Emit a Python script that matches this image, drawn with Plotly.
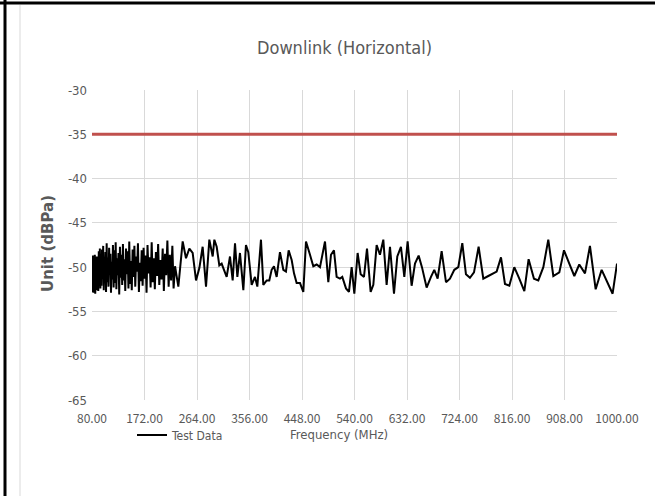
import plotly.graph_objects as go

# ---------------- data ----------------
freq_mhz = [
    80, 80.8, 81.6, 82.4, 83.2, 84.0, 84.9, 85.7, 86.6, 87.5,
    88.3, 89.2, 90.1, 91.0, 91.9, 92.9, 93.8, 94.7, 95.7, 96.6,
    97.6, 98.6, 99.6, 100.6, 101.6, 102.6, 103.6, 104.6, 105.7, 106.7,
    107.8, 108.9, 110.0, 111.1, 112.2, 113.3, 114.4, 115.6, 116.7, 117.9,
    119.1, 120.3, 121.5, 122.7, 123.9, 125.2, 126.4, 127.7, 129.0, 130.3,
    131.6, 132.9, 134.2, 135.5, 136.9, 138.3, 139.6, 141.0, 142.5, 143.9,
    145.3, 146.8, 148.2, 149.7, 151.2, 152.7, 154.3, 155.8, 157.4, 159.0,
    160.5, 162.2, 163.8, 165.4, 167.1, 168.7, 170.4, 172.1, 173.8, 175.6,
    177.3, 179.1, 180.9, 182.7, 184.6, 186.4, 188.3, 190.1, 192.0, 194.0,
    195.9, 197.9, 199.8, 201.8, 203.9, 205.9, 208.0, 210.0, 212.1, 214.3,
    216.4, 218.6, 220.8, 223.0,
    225.5, 231.3, 238.9, 244.7, 250.6, 256.4, 262.3, 268.1, 273.9, 279.8,
    285.6, 291.5, 294.4, 298.5, 303.1, 307.2, 311.3, 316.0, 321.8, 326.5,
    330.6, 334.7, 339.3, 345.2, 349.8, 353.9, 359.8, 365.6, 369.7, 376.1,
    380.2, 386.1, 390.7, 394.8, 398.9, 403.6, 409.4, 415.3, 419.9, 424.6,
    429.9, 434.0, 438.6, 444.5, 450.3, 455.0, 462.0, 467.8, 473.7, 479.5,
    488.3, 494.1, 498.8, 504.0, 508.7, 514.5, 518.6, 525.1, 530.3, 535.0,
    539.7, 545.5, 550.8, 556.6, 561.9, 568.3, 573.0, 578.8, 584.6, 590.5,
    596.3, 602.2, 609.2, 615.0, 621.4, 627.3, 633.1, 640.1, 646.0, 652.4,
    658.2, 666.4, 674.0, 679.8, 685.7, 692.7, 700.3, 707.3, 714.9, 721.9,
    728.9, 735.3, 742.3, 749.4, 757.5, 765.7, 774.5, 782.1, 789.1, 796.7,
    803.7, 811.3, 820.0, 828.8, 837.6, 845.1, 854.5, 862.1, 870.9, 879.6,
    888.4, 898.9, 907.1, 916.4, 925.2, 933.9, 943.9, 952.6, 962.6, 973.1,
    983.0, 992.3, 1000.0,
]

test_data_dbpa = [
    -49.5, -52.8, -48.7, -52.9, -49.0, -52.5, -48.6, -53.0, -50.2, -52.6,
    -48.8, -51.9, -49.3, -52.7, -48.2, -51.6, -47.9, -52.4, -49.6, -52.1,
    -48.0, -51.3, -47.6, -52.6, -49.2, -51.0, -48.3, -52.8, -47.3, -51.7,
    -48.9, -52.2, -47.8, -50.6, -48.5, -52.9, -49.4, -51.4, -47.5, -52.3,
    -48.1, -51.8, -47.2, -52.5, -49.0, -50.9, -48.4, -53.1, -47.7, -51.2,
    -48.6, -52.0, -47.4, -51.5, -49.1, -52.7, -47.9, -50.8, -48.2, -52.4,
    -47.1, -51.9, -49.3, -52.6, -48.0, -51.1, -47.6, -52.2, -48.8, -50.5,
    -47.3, -52.8, -49.5, -51.6, -48.1, -52.1, -47.8, -51.3, -48.7, -52.9,
    -47.5, -50.7, -48.9, -52.3, -47.2, -51.7, -49.0, -52.5, -48.3, -51.0,
    -47.4, -52.0, -49.2, -51.4, -47.9, -52.7, -48.5, -50.9, -47.0, -52.2,
    -48.6, -51.5, -47.6, -52.4,
    -49.9, -52.2, -47.1, -49.0, -47.9, -48.4, -51.5, -50.1, -47.7, -52.2,
    -46.9, -48.8, -46.9, -47.7, -49.8, -49.6, -50.3, -51.1, -48.8, -51.5,
    -47.3, -51.1, -48.4, -52.6, -47.5, -48.3, -52.0, -51.1, -52.2, -46.9,
    -52.0, -51.5, -51.5, -50.3, -49.9, -51.1, -48.3, -50.3, -50.5, -48.1,
    -49.2, -50.7, -51.8, -51.8, -52.8, -47.1, -48.6, -49.9, -49.7, -50.0,
    -47.1, -51.7, -48.6, -48.1, -51.1, -51.3, -51.1, -52.4, -52.8, -50.0,
    -53.0, -48.4, -50.8, -51.1, -47.9, -52.8, -52.0, -47.5, -48.6, -46.9,
    -52.0, -47.7, -53.0, -48.8, -47.7, -51.1, -47.1, -52.1, -49.6, -48.7,
    -50.0, -52.3, -51.1, -50.3, -51.3, -48.2, -51.7, -51.3, -50.3, -50.0,
    -47.3, -50.8, -51.2, -50.6, -47.7, -51.3, -51.0, -50.7, -50.5, -48.9,
    -51.9, -52.1, -50.0, -51.3, -52.7, -49.1, -51.3, -51.5, -50.0, -46.9,
    -51.0, -50.6, -48.1, -49.6, -51.0, -49.7, -50.7, -47.6, -52.5, -50.3,
    -51.6, -53.0, -49.6,
]

limit_freq = [80, 1000]
limit_dbpa = [-35, -35]

x_ticks = [80, 172, 264, 356, 448, 540, 632, 724, 816, 908, 1000]
x_tick_text = ["80.00", "172.00", "264.00", "356.00", "448.00", "540.00",
               "632.00", "724.00", "816.00", "908.00", "1000.00"]
y_ticks = [-30, -35, -40, -45, -50, -55, -60, -65]
y_tick_text = ["-30", "-35", "-40", "-45", "-50", "-55", "-60", "-65"]

assert len(freq_mhz) == len(test_data_dbpa)

# ---------------- figure ----------------
W, H = 655, 496
L, R, T, B = 92, 38, 90, 96
pw, ph = W - L - R, H - T - B


def px(x):
    return (x - L) / pw


def py(y):
    return (H - B - y) / ph


GREY = "#595959"
NARROW = "DejaVu Sans Condensed, Liberation Sans Narrow, Liberation Sans, sans-serif"

fig = go.Figure()
fig.add_trace(go.Scatter(
    x=limit_freq, y=limit_dbpa, mode="lines",
    line=dict(color="#C0504D", width=3), showlegend=False, hoverinfo="skip",
))
fig.add_trace(go.Scatter(
    x=freq_mhz, y=test_data_dbpa, mode="lines", name="Test Data",
    line=dict(color="#000000", width=2),
))

fig.update_layout(
    width=W, height=H,
    margin=dict(l=L, r=R, t=T, b=B),
    paper_bgcolor="white", plot_bgcolor="white",
    showlegend=True,
    legend=dict(x=px(132), y=py(435), xanchor="left", yanchor="middle",
                font=dict(family=NARROW, size=12, color=GREY),
                bgcolor="rgba(0,0,0,0)", itemwidth=30),
    font=dict(family=NARROW, color=GREY),
)
fig.update_xaxes(
    range=[80, 1000], tickvals=x_ticks, ticktext=x_tick_text,
    showgrid=True, gridcolor="#D9D9D9", gridwidth=1,
    zeroline=False, showline=False, ticks="", ticklabelstandoff=10,
    tickfont=dict(family="Noto Sans CJK SC", size=12, color=GREY),
)
fig.update_yaxes(
    range=[-65, -30], tickvals=y_ticks, ticktext=y_tick_text,
    showgrid=True, gridcolor="#D9D9D9", gridwidth=1,
    zeroline=False, showline=False, ticks="", ticklabelstandoff=4,
    tickfont=dict(family=NARROW, size=13, color=GREY),
)

fig.add_annotation(
    text="Downlink (Horizontal)", xref="paper", yref="paper",
    x=px(344), y=py(47), xanchor="center", yanchor="middle", showarrow=False,
    font=dict(family=NARROW, size=18, color=GREY),
)
fig.add_annotation(
    text="Frequency (MHz)", xref="paper", yref="paper",
    x=px(339), y=py(435), xanchor="center", yanchor="middle", showarrow=False,
    font=dict(family=NARROW, size=13, color=GREY),
)
fig.add_annotation(
    text="<b>Unit (dBPa)</b>", xref="paper", yref="paper",
    x=px(48), y=py(244), xanchor="center", yanchor="middle", showarrow=False,
    textangle=-90,
    font=dict(family="DejaVu Sans", size=15, color=GREY),
)

# outer frame lines
fig.add_shape(type="line", xref="paper", yref="paper",
              x0=px(5), x1=px(5), y0=py(0), y1=py(H),
              line=dict(color="black", width=3))
fig.add_shape(type="line", xref="paper", yref="paper",
              x0=px(0), x1=px(W), y0=py(3), y1=py(3),
              line=dict(color="black", width=3))
fig.add_shape(type="line", xref="paper", yref="paper",
              x0=px(20), x1=px(20), y0=py(5), y1=py(H),
              line=dict(color="#D9D9D9", width=1))

fig.write_html("out.html", config={"displayModeBar": False},
               post_script="document.body.style.margin='0px';")
